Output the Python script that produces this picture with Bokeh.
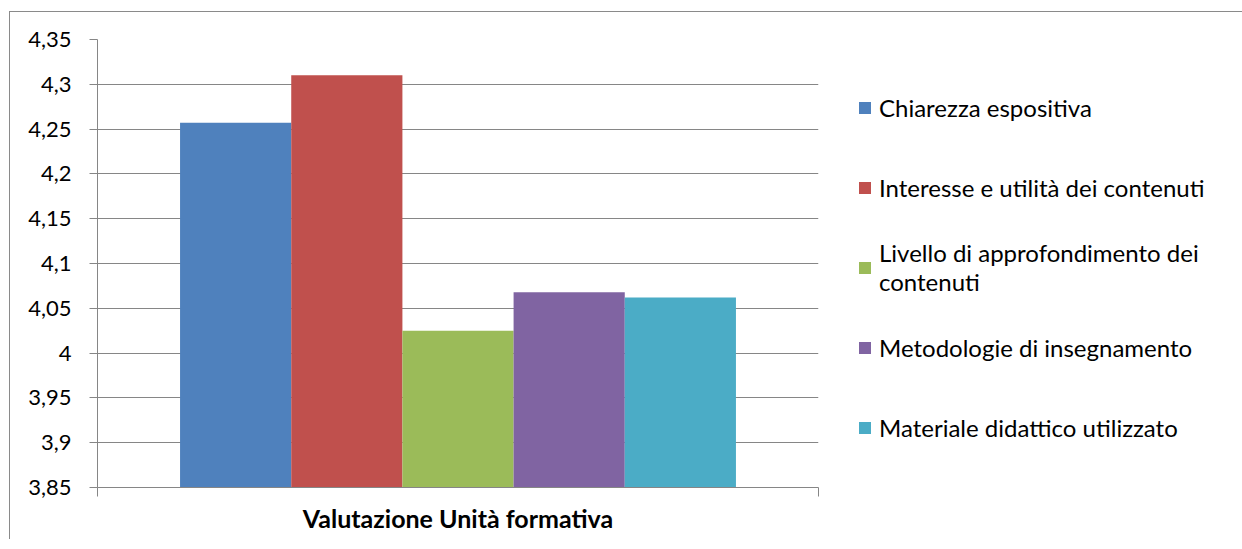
import textwrap
from bokeh.plotting import figure
from bokeh.models import (FactorRange, Range1d, LinearAxis, CategoricalAxis, FixedTicker,
                          CustomJSTickFormatter, Legend, LegendItem, ColumnDataSource)
from bokeh.transform import dodge
from bokeh.embed import file_html
from bokeh.resources import INLINE

# ---- data ----
categories = ["Valutazione Unità formativa"]
series_names = ["Chiarezza espositiva",
                "Interesse e utilità dei contenuti",
                "Livello di approfondimento dei contenuti",
                "Metodologie di insegnamento",
                "Materiale didattico utilizzato"]
series_values = [4.257, 4.310, 4.025, 4.068, 4.062]
series_colors = ["#4F81BD", "#C0504D", "#9BBB59", "#8064A2", "#4BACC6"]
y_ticks = [3.85, 3.90, 3.95, 4.00, 4.05, 4.10, 4.15, 4.20, 4.25, 4.30, 4.35]

FONT = "Lato"
GRID = "#868686"
y_min, y_max = y_ticks[0], y_ticks[-1]

p = figure(frame_width=721, frame_height=448,
           x_range=FactorRange(factors=categories, range_padding=0),
           y_range=Range1d(y_min, y_max),
           x_axis_location=None,
           output_backend="svg", toolbar_location=None,
           min_border_left=87, min_border_top=27, min_border_bottom=52, min_border_right=0)
p.styles = {"border-top": "1px solid #8a8a8a", "border-left": "1px solid #8a8a8a",
            "margin-top": "11px", "margin-left": "9px"}
p.outline_line_color = None
p.background_fill_color = "white"
p.border_fill_color = "white"
p.xgrid.visible = False

# bars
n = len(series_names)
bar_w = 0.1542
renderers = []
for i, (name, val, col) in enumerate(zip(series_names, series_values, series_colors)):
    src = ColumnDataSource(dict(x=[categories[0]], top=[val], bottom=[y_min]))
    r = p.vbar(x=dodge("x", (i - (n - 1) / 2) * bar_w, range=p.x_range),
               top="top", bottom="bottom", width=bar_w,
               fill_color=col, line_color=None, source=src)
    renderers.append(r)

# y axis
yt = FixedTicker(ticks=y_ticks)
ax = p.yaxis[0]
ax.ticker = yt
ax.formatter = CustomJSTickFormatter(
    code="return tick.toFixed(2).replace(/\\.?0+$/, '').replace('.', ',');")
ax.axis_line_color = GRID
ax.major_tick_line_color = GRID
ax.major_tick_in = 0
ax.major_tick_out = 8
ax.minor_tick_line_color = None
ax.major_label_standoff = 18
ax.major_label_text_font = FONT
ax.major_label_text_font_size = "22px"
ax.major_label_text_color = "#000000"

p.ygrid[0].ticker = yt
p.ygrid[0].grid_line_color = GRID
p.ygrid[0].grid_line_width = 1

# x axes: edge ticks at the category boundaries (synthetic 0 and 1) + category label
edge_axis = LinearAxis(ticker=FixedTicker(ticks=[0, 1]),
                       formatter=CustomJSTickFormatter(code="return '';"),
                       major_tick_in=0, major_tick_out=9,
                       major_tick_line_color=GRID, axis_line_color=GRID,
                       minor_tick_line_color=None,
                       major_label_standoff=0)
cat_axis = CategoricalAxis(axis_line_color=None, major_tick_line_color=None,
                           minor_tick_line_color=None,
                           major_label_text_font=FONT, major_label_text_font_style="bold",
                           major_label_text_font_size="25px", major_label_text_color="#000000",
                           major_label_standoff=0)
p.add_layout(edge_axis, "below")
p.add_layout(cat_axis, "below")

# legend
items = [LegendItem(label=textwrap.fill(name, 33), renderers=[r])
         for name, r in zip(series_names, renderers)]
legend = Legend(items=items, location="top_left", orientation="vertical",
                border_line_color=None, background_fill_alpha=0,
                margin=39, padding=0, spacing=22, label_height=58,
                glyph_width=15, glyph_height=15, label_standoff=7,
                label_text_font=FONT, label_text_font_size="24px",
                label_text_color="#000000")
p.add_layout(legend, "right")

open("out.html", "w").write(file_html(p, INLINE))
